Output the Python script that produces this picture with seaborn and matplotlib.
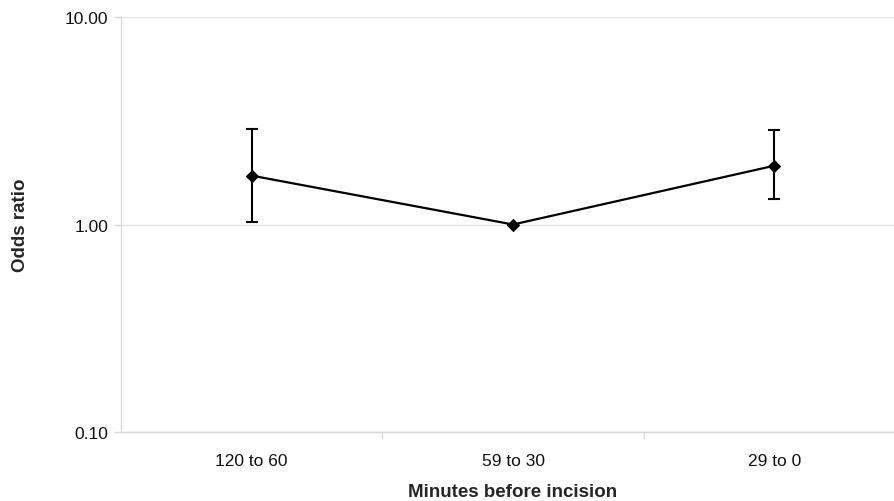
import matplotlib
matplotlib.use("Agg")
import matplotlib.pyplot as plt
import seaborn as sns
import pandas as pd
import numpy as np
from matplotlib.ticker import FixedLocator, FixedFormatter, NullLocator

categories = ["120 to 60", "59 to 30", "29 to 0"]
odds_ratio = [1.72, 1.00, 1.92]
ci_lower = [1.03, 1.00, 1.33]
ci_upper = [2.90, 1.00, 2.84]
ytick_values = [0.1, 1.0, 10.0]
ytick_labels = ["0.10", "1.00", "10.00"]

sns.set_style("white")
plt.rcParams['font.family'] = ['Liberation Sans', 'DejaVu Sans']

W, H = 894, 502
fig = plt.figure(figsize=(W / 100, H / 100), dpi=100)
left, right, top, bottom = 121, 905, 18, 433
ax = fig.add_axes([left / W, 1 - bottom / H, (right - left) / W, (bottom - top) / H])

pos = np.arange(len(categories))
df = pd.DataFrame({"x": pos, "or": odds_ratio})
sns.lineplot(data=df, x="x", y="or", ax=ax, color="black", linewidth=1.6,
             marker="D", markersize=6, markeredgecolor="black", sort=False)
yerr = [np.array(odds_ratio) - np.array(ci_lower), np.array(ci_upper) - np.array(odds_ratio)]
ax.errorbar(pos, odds_ratio, yerr=yerr, fmt="none", ecolor="black", elinewidth=1.5,
            capsize=4, capthick=1.5)

ax.set_yscale("log")
ax.set_ylim(0.1, 10)
ax.set_xlim(-0.5, 2.5)
ax.yaxis.set_major_locator(FixedLocator(ytick_values))
ax.yaxis.set_major_formatter(FixedFormatter(ytick_labels))
ax.yaxis.set_minor_locator(NullLocator())
ax.set_xticks(pos)
ax.set_xticklabels(categories)
ax.set_xticks([0.5, 1.5], minor=True)
ax.tick_params(bottom=True, left=True, which="both")
ax.tick_params(axis="x", which="major", length=0, labelsize=12.5, pad=15, labelcolor="#111111")
ax.tick_params(axis="x", which="minor", length=5, color="#d9d9d9", width=1)
ax.tick_params(axis="y", which="major", length=5, color="#d9d9d9", width=1, labelsize=12.5,
               pad=4, labelcolor="#111111")
ax.grid(axis="y", which="major", color="#e3e3e3", linewidth=1)
ax.set_axisbelow(True)
for s in ["top", "right"]:
    ax.spines[s].set_visible(False)
for s in ["left", "bottom"]:
    ax.spines[s].set_color("#d9d9d9")
    ax.spines[s].set_linewidth(1)

ax.set_xlabel("")
ax.set_ylabel("Odds ratio", fontsize=13.5, fontweight="bold")
ax.yaxis.set_label_coords((29 - left) / (right - left), 0.5)
fig.text(513 / W, 1 - 493 / H, "Minutes before incision", ha="center", va="center",
         fontsize=13.5, fontweight="bold")

fig.savefig("out.png", dpi=100)
